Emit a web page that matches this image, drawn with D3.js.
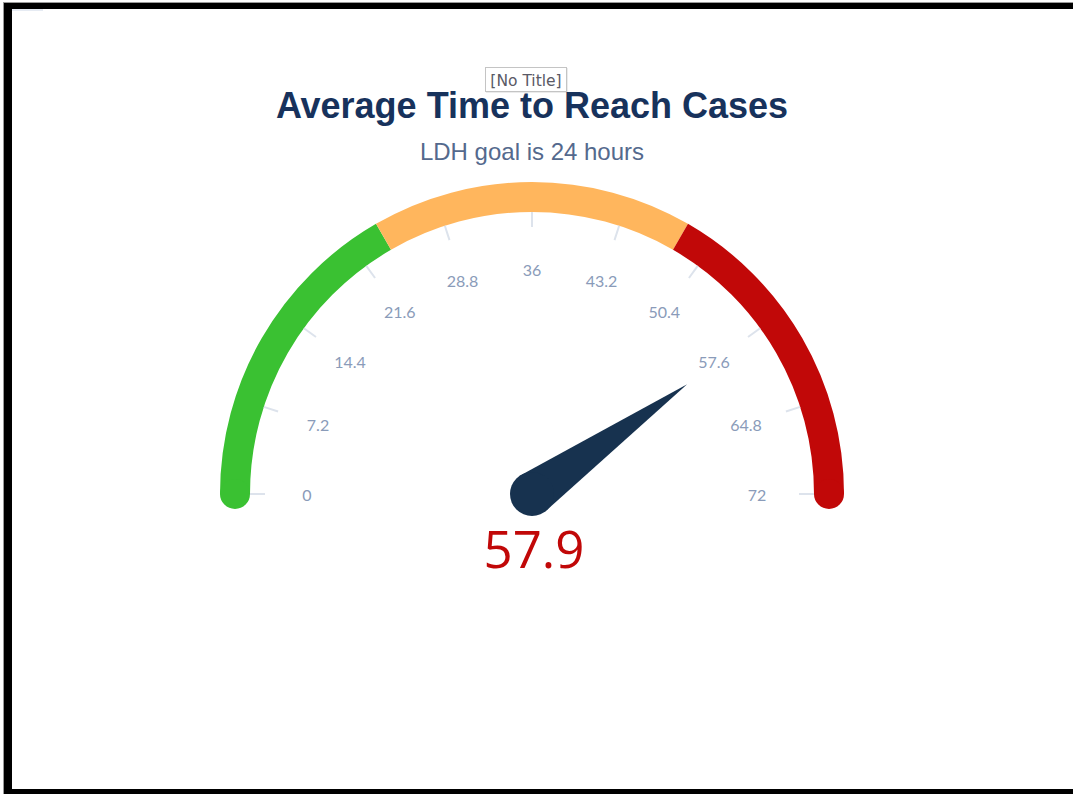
<!DOCTYPE html>
<html>
<head>
<meta charset="utf-8">
<script src="https://cdn.jsdelivr.net/npm/d3@7"></script>
<style>
  html, body { margin: 0; padding: 0; background: #fff; }
  svg { display: block; }
</style>
</head>
<body>
<svg id="chart" width="1073" height="794"></svg>
<script>
// Gauge data
const bandStops = [0, 24, 48, 72];
const bandColors = ["#3ac132", "#ffb65d", "#c10808"];
const tickValues = [0, 7.2, 14.4, 21.6, 28.8, 36, 43.2, 50.4, 57.6, 64.8, 72];
const tickLabels = ["0", "7.2", "14.4", "21.6", "28.8", "36", "43.2", "50.4", "57.6", "64.8", "72"];
const gaugeValue = 57.9;
const valueLabel = "57.9";
const titleText = "Average Time to Reach Cases";
const subtitleText = "LDH goal is 24 hours";

const svg = d3.select("#chart");
const W = 1073, H = 794;

// Window frame
svg.append("rect").attr("x", 0).attr("y", 0).attr("width", W).attr("height", H).attr("fill", "#fff");
svg.append("rect").attr("x", 3).attr("y", 2).attr("width", W - 3).attr("height", 1).attr("fill", "#9a9a9a");
svg.append("rect").attr("x", 3).attr("y", 2).attr("width", 1).attr("height", H).attr("fill", "#9a9a9a");
svg.append("rect").attr("x", 4).attr("y", 3).attr("width", W - 4).attr("height", 6).attr("fill", "#000");
svg.append("rect").attr("x", 4).attr("y", 3).attr("width", 8).attr("height", H - 3).attr("fill", "#000");
svg.append("rect").attr("x", 4).attr("y", 789).attr("width", W - 4).attr("height", 5).attr("fill", "#000");
svg.append("rect").attr("x", 12).attr("y", 9).attr("width", 31).attr("height", 2).attr("fill", "#e6ebf3");

const cx = 532, cy = 494;
const rInner = 282, rOuter = 312, rMid = (rInner + rOuter) / 2;

const angle = d3.scaleLinear().domain([bandStops[0], bandStops[bandStops.length - 1]]).range([-Math.PI / 2, Math.PI / 2]);
const polar = (r, a) => [cx + r * Math.sin(a), cy - r * Math.cos(a)];

const g = svg.append("g");

// Colored bands
const bandArc = d3.arc().innerRadius(rInner).outerRadius(rOuter);
const bands = bandColors.map((c, i) => ({ from: bandStops[i], to: bandStops[i + 1], color: c }));
g.selectAll("path.band").data(bands).join("path")
  .attr("class", "band")
  .attr("transform", `translate(${cx},${cy})`)
  .attr("d", d => bandArc({ startAngle: angle(d.from), endAngle: angle(d.to) }))
  .attr("fill", d => d.color);

// Rounded caps at both ends of the dial
const caps = [{ v: bands[0].from, color: bands[0].color }, { v: bands[bands.length - 1].to, color: bands[bands.length - 1].color }];
g.selectAll("circle.cap").data(caps).join("circle")
  .attr("class", "cap")
  .attr("cx", d => polar(rMid, angle(d.v))[0])
  .attr("cy", d => polar(rMid, angle(d.v))[1])
  .attr("r", (rOuter - rInner) / 2)
  .attr("fill", d => d.color);

// Tick marks inside the dial
g.selectAll("line.tick").data(tickValues).join("line")
  .attr("class", "tick")
  .attr("x1", d => polar(rInner, angle(d))[0])
  .attr("y1", d => polar(rInner, angle(d))[1])
  .attr("x2", d => polar(rInner - 15, angle(d))[0])
  .attr("y2", d => polar(rInner - 15, angle(d))[1])
  .attr("stroke", "#dde3ec")
  .attr("stroke-width", 2);

// Tick labels
g.selectAll("text.tickLabel").data(tickValues).join("text")
  .attr("class", "tickLabel")
  .attr("x", d => polar(225, angle(d))[0])
  .attr("y", d => polar(225, angle(d))[1])
  .attr("text-anchor", "middle")
  .attr("dominant-baseline", "central")
  .attr("font-family", "Lato, 'Open Sans', sans-serif")
  .attr("font-size", 16)
  .attr("fill", "#8a9bb9")
  .text((d, i) => tickLabels[i]);

// Needle
const a = angle(gaugeValue);
const baseR = 22, needleLen = 190;
const tip = polar(needleLen, a);
const left = [cx + baseR * Math.cos(a), cy + baseR * Math.sin(a)];
const right = [cx - baseR * Math.cos(a), cy - baseR * Math.sin(a)];
g.append("path")
  .attr("d", d3.line()([left, tip, right]) + "Z")
  .attr("fill", "#17324f");
g.append("circle").attr("cx", cx).attr("cy", cy).attr("r", baseR).attr("fill", "#17324f");

// Value readout
g.append("text")
  .attr("x", cx + 2).attr("y", 568)
  .attr("text-anchor", "middle")
  .attr("font-family", "'Open Sans', Lato, sans-serif")
  .attr("font-size", 51)
  .attr("fill", "#c10808")
  .text(valueLabel);

// Titles
svg.append("text")
  .attr("x", cx).attr("y", 118)
  .attr("text-anchor", "middle")
  .attr("font-family", "'Liberation Sans', Arial, sans-serif")
  .attr("font-weight", "bold")
  .attr("font-size", 36)
  .attr("fill", "#17325c")
  .text(titleText);

svg.append("text")
  .attr("x", cx).attr("y", 160)
  .attr("text-anchor", "middle")
  .attr("font-family", "'Liberation Sans', Arial, sans-serif")
  .attr("font-size", 24)
  .attr("fill", "#54698d")
  .text(subtitleText);

// Hover tooltip box
const tipG = svg.append("g");
tipG.append("rect")
  .attr("x", 486).attr("y", 68).attr("width", 82).attr("height", 25)
  .attr("fill", "#000").attr("opacity", 0.08);
tipG.append("rect")
  .attr("x", 485.5).attr("y", 67.5).attr("width", 81).attr("height", 24)
  .attr("fill", "#fff").attr("stroke", "#c4c4c4");
tipG.append("text")
  .attr("x", 526).attr("y", 86)
  .attr("text-anchor", "middle")
  .attr("font-family", "'DejaVu Sans', 'Liberation Sans', sans-serif")
  .attr("font-size", 15.5)
  .attr("fill", "#5a5a66")
  .text("[No Title]");
</script>
</body>
</html>
